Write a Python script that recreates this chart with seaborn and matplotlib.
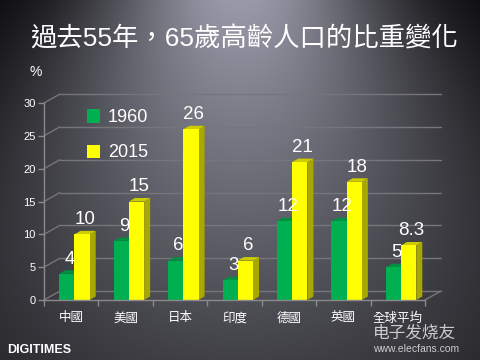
import numpy as np
import pandas as pd
import matplotlib
matplotlib.use("Agg")
import matplotlib.pyplot as plt
from matplotlib.patches import Polygon, Patch
import seaborn as sns

# data
countries = ["中國", "美國", "日本", "印度", "德國", "英國", "全球平均"]
years = ["1960", "2015"]
share_1960 = [4, 9, 6, 3, 12, 12, 5]
share_2015 = [10, 15, 26, 6, 21, 18, 8.3]
labels_1960 = ["4", "9", "6", "3", "12", "12", "5"]
labels_2015 = ["10", "15", "26", "6", "21", "18", "8.3"]
yticks = [0, 5, 10, 15, 20, 25, 30]

colors = {"1960": "#00B050", "2015": "#FFFF00"}
side_colors = {"1960": "#00803A", "2015": "#A8A800"}
top_colors = {"1960": "#009040", "2015": "#CCCC00"}

sns.set_theme(style="dark")
plt.rcParams["font.family"] = ["Liberation Sans", "Noto Sans CJK TC", "DejaVu Sans"]

df = pd.DataFrame({
    "country": countries * 2,
    "year": [years[0]] * len(countries) + [years[1]] * len(countries),
    "share": share_1960 + share_2015,
})

fig = plt.figure(figsize=(4.8, 3.6), dpi=100)

# spotlight style background, brightest at the top centre
bg = fig.add_axes([0, 0, 1, 1])
yy, xx = np.mgrid[0:360, 0:480]
width = 150 + 0.6 * yy
val = 0.58 * np.exp(-((xx - 240) / width) ** 2) * (1 - 0.6 * yy / 360) + 0.02
img = np.dstack([val, val, val * 1.1])
bg.imshow(np.clip(img, 0, 1), extent=[0, 1, 0, 1], aspect="auto", origin="upper")
bg.axis("off")

# plot area in pixels: x 44..425, y 300..103
ax = fig.add_axes([44 / 480, 60 / 360, 381 / 480, 197 / 360])
ax.set_facecolor("none")

sns.barplot(data=df, x="country", y="share", hue="year", palette=colors,
            width=0.56, linewidth=0, saturation=1, legend=False, ax=ax, zorder=2)

ax.set_xlim(-0.5, len(countries) - 0.5)
ax.set_ylim(0, 30)

px_x = 381 / len(countries)   # pixels per category
px_y = 197 / 30.0             # pixels per percent
dx, dy = 6 / px_x, 3.5 / px_y      # bar depth
bdx, bdy = 16 / px_x, 9 / px_y     # wall depth

# back wall gridlines and left diagonals
grid_c = "#75757b"
x_lo, x_hi = -0.5, len(countries) - 0.5
for v in yticks:
    ax.plot([x_lo + bdx, x_hi + bdx], [v + bdy, v + bdy], color=grid_c, lw=1,
            clip_on=False, zorder=0.5)
    ax.plot([x_lo, x_lo + bdx], [v, v + bdy], color=grid_c, lw=1,
            clip_on=False, zorder=0.5)
ax.plot([x_hi, x_hi + bdx], [0, bdy], color=grid_c, lw=1, clip_on=False, zorder=0.5)

# 3D side and top faces, value labels
n = len(countries)
for i, p in enumerate(ax.patches[:2 * n]):
    yr = years[i // n]
    p.set_x(p.get_x() + 0.06)
    x0, w, h = p.get_x(), p.get_width(), p.get_height()
    side = Polygon([(x0 + w, 0), (x0 + w + dx, dy), (x0 + w + dx, h + dy), (x0 + w, h)],
                   closed=True, facecolor=side_colors[yr], lw=0, zorder=1)
    top = Polygon([(x0, h), (x0 + w, h), (x0 + w + dx, h + dy), (x0 + dx, h + dy)],
                  closed=True, facecolor=top_colors[yr], lw=0, zorder=1)
    ax.add_patch(side)
    ax.add_patch(top)
    lab = (labels_1960 if yr == "1960" else labels_2015)[i % n]
    ax.text(x0 + w / 2 + dx / 2, h + dy + 0.4, lab, ha="center", va="bottom",
            color="white", fontsize=13.5, zorder=3)

# axes styling
for s in ["top", "right"]:
    ax.spines[s].set_visible(False)
ax.spines["left"].set_color("#8a8a8a")
ax.spines["bottom"].set_color("#8a8a8a")
ax.spines["left"].set_linewidth(1)
ax.spines["bottom"].set_linewidth(1)
ax.set_yticks(yticks)
ax.tick_params(axis="y", colors="white", labelsize=8, length=4, width=1,
               color="#8a8a8a", left=True, pad=2)
ax.set_xticks(range(n))
ax.set_xticklabels(countries)
ax.set_xticks(np.arange(-0.5, n, 1.0), minor=True)
ax.tick_params(axis="x", which="major", length=0, colors="white", labelsize=9, pad=9)
ax.tick_params(axis="x", which="minor", length=4, width=1, color="#8a8a8a", bottom=True)
ax.set_xlabel("")
ax.set_ylabel("")
ax.grid(False)

handles = [Patch(facecolor=colors[y], edgecolor="none") for y in years]
leg = ax.legend(handles, years, loc="upper left", bbox_to_anchor=(0.07, 1.05),
                frameon=False, fontsize=13, labelspacing=1.0, handlelength=0.75,
                handleheight=0.75, handletextpad=0.4)
for t in leg.get_texts():
    t.set_color("white")

fig.text(30 / 480, 1 - 39 / 360, "過去55年，65歲高齡人口的比重變化", color="white",
         fontsize=19, ha="left", va="center")
fig.text(30 / 480, 1 - 72 / 360, "%", color="white", fontsize=10, ha="left", va="center")
fig.text(7 / 480, 1 - 350 / 360, "DIGITIMES", color="white", fontsize=9,
         fontweight="bold", ha="left", va="center")
fig.text(373 / 480, 1 - 333 / 360, "电子发烧友", color="white", alpha=0.75,
         fontsize=12, ha="left", va="center", family=["Noto Sans CJK SC", "DejaVu Sans"])
fig.text(373 / 480, 1 - 349 / 360, "www.elecfans.com", color="white", alpha=0.75,
         fontsize=7.5, ha="left", va="center")

fig.savefig("out.png", dpi=100)
